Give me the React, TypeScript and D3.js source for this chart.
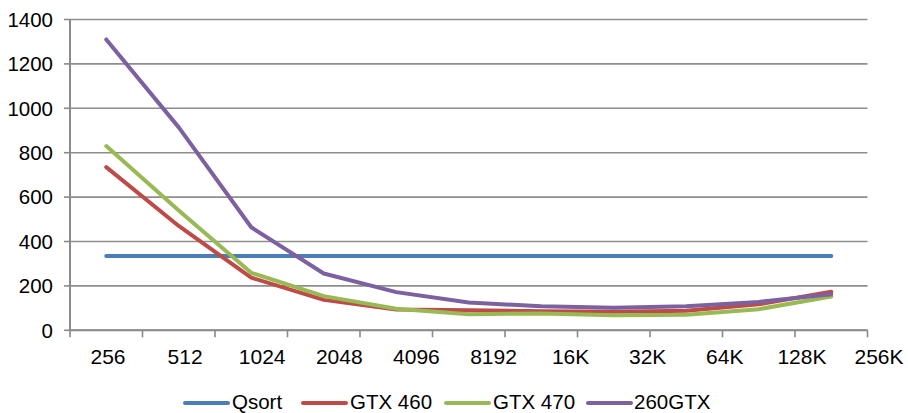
import React from "react";
import * as d3 from "d3";

const categories = ["256", "512", "1024", "2048", "4096", "8192", "16K", "32K", "64K", "128K", "256K"];
const qsort = [335, 335, 335, 335, 335, 335, 335, 335, 335, 335, 335];
const gtx460 = [735, 470, 237, 137, 94, 90, 86, 84, 88, 117, 174];
const gtx470 = [830, 540, 259, 154, 97, 72, 76, 68, 70, 95, 152];
const gtx260 = [1310, 914, 464, 256, 172, 125, 108, 102, 108, 128, 162];
const yTicks = [0, 200, 400, 600, 800, 1000, 1200, 1400];

const seriesNames = ["Qsort", "GTX 460", "GTX 470", "260GTX"];
const seriesColors = ["#4a7ebb", "#be4b48", "#98b954", "#7d60a0"];
const seriesData = [qsort, gtx460, gtx470, gtx260];

const W = 908;
const H = 413;
const left = 70;
const right = 867.5;
const top = 19.5;
const bottom = 330.3;
const FONT = "'Liberation Sans', Arial, sans-serif";

export default function App() {
  const xBand = d3.scaleBand<string>().domain(categories).range([left, right]).paddingInner(0).paddingOuter(0);
  const xPoint = (c: string) => (xBand(c) as number) + xBand.bandwidth() / 2;
  const xLabel = d3.scalePoint<string>().domain(categories).range([108, 879]);
  const y = d3.scaleLinear().domain([0, 1400]).range([bottom, top]);

  const line = d3
    .line<number>()
    .x((_, i) => xPoint(categories[i]))
    .y((v) => y(v));

  const tickXs = categories.map((c) => xBand(c) as number).concat([right]);

  const legendItems = [
    { lx: 185, tx: 232 },
    { lx: 303, tx: 350 },
    { lx: 446, tx: 493 },
    { lx: 588, tx: 634 },
  ];

  return (
    <svg width={W} height={H} style={{ position: "absolute", left: 0, top: 0, background: "#fff" }} fontFamily={FONT}>
      {yTicks.map((t) => (
        <line key={"g" + t} x1={left} x2={right} y1={y(t)} y2={y(t)} stroke="#8e8e8e" strokeWidth={1.6} />
      ))}
      <line x1={left} x2={left} y1={top} y2={bottom} stroke="#8a8a8a" strokeWidth={2} />
      {yTicks.map((t) => (
        <line key={"yt" + t} x1={left - 6} x2={left} y1={y(t)} y2={y(t)} stroke="#8a8a8a" strokeWidth={1.6} />
      ))}
      <line x1={left} x2={right} y1={bottom} y2={bottom} stroke="#8a8a8a" strokeWidth={2} />
      {tickXs.map((x, i) => (
        <line key={"xt" + i} x1={x} x2={x} y1={bottom} y2={bottom + 7} stroke="#8a8a8a" strokeWidth={1.6} />
      ))}
      {yTicks.map((t) => (
        <text key={"yl" + t} x={53} y={y(t)} dy="0.36em" textAnchor="end" fontSize={20.5} fill="#000">
          {t}
        </text>
      ))}
      {categories.map((c) => (
        <text key={"xl" + c} x={xLabel(c)} y={364} textAnchor="middle" fontSize={21} fill="#000">
          {c}
        </text>
      ))}
      {seriesData.map((d, i) => (
        <path
          key={"s" + i}
          d={line(d) as string}
          fill="none"
          stroke={seriesColors[i]}
          strokeWidth={4}
          strokeLinejoin="round"
          strokeLinecap="round"
        />
      ))}
      {seriesNames.map((n, i) => (
        <g key={"lg" + i}>
          <line
            x1={legendItems[i].lx}
            x2={legendItems[i].lx + 43}
            y1={403}
            y2={403}
            stroke={seriesColors[i]}
            strokeWidth={4}
            strokeLinecap="round"
          />
          <text x={legendItems[i].tx} y={408.5} fontSize={20.5} fill="#000">
            {n}
          </text>
        </g>
      ))}
    </svg>
  );
}
